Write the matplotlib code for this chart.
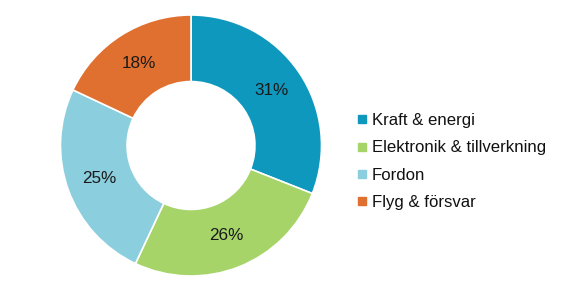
import matplotlib
matplotlib.use("Agg")
import matplotlib.pyplot as plt
from matplotlib.lines import Line2D

categories = ["Kraft & energi", "Elektronik & tillverkning", "Fordon", "Flyg & försvar"]
values = [31, 26, 25, 18]
colors = ["#0E98BE", "#A6D469", "#8BCEDD", "#E0702F"]

plt.rcParams['font.family'] = ['Liberation Sans', 'DejaVu Sans']

W, H = 564, 292
fig = plt.figure(figsize=(W/100, H/100), dpi=100)
cx, cy, R = 191, 145.5, 130.5
ax = fig.add_axes([(cx-R)/W, (H-cy-R)/H, 2*R/W, 2*R/H])
wedges, texts, autotexts = ax.pie(
    values, colors=colors, startangle=90, counterclock=False, radius=1,
    autopct=lambda p: f"{p:.0f}%", pctdistance=0.745,
    wedgeprops=dict(width=0.51, edgecolor="white", linewidth=1.2),
    textprops=dict(fontsize=12.3, color="#1a1a1a"))
ax.set_xlim(-1, 1)
ax.set_ylim(-1, 1)
ax.set_aspect('equal')
ax.axis('off')

handles = [Line2D([0], [0], marker='s', linestyle='none', markersize=5.5,
                  markerfacecolor=c, markeredgecolor=c) for c in colors]
fig.legend(handles, categories, loc='center left',
           bbox_to_anchor=(349/W, 1-161.5/H), frameon=False,
           fontsize=12.1, handlelength=0.5, handletextpad=0.35,
           labelspacing=0.72, borderpad=0, labelcolor="#111111")

fig.savefig("out.png", dpi=100)
